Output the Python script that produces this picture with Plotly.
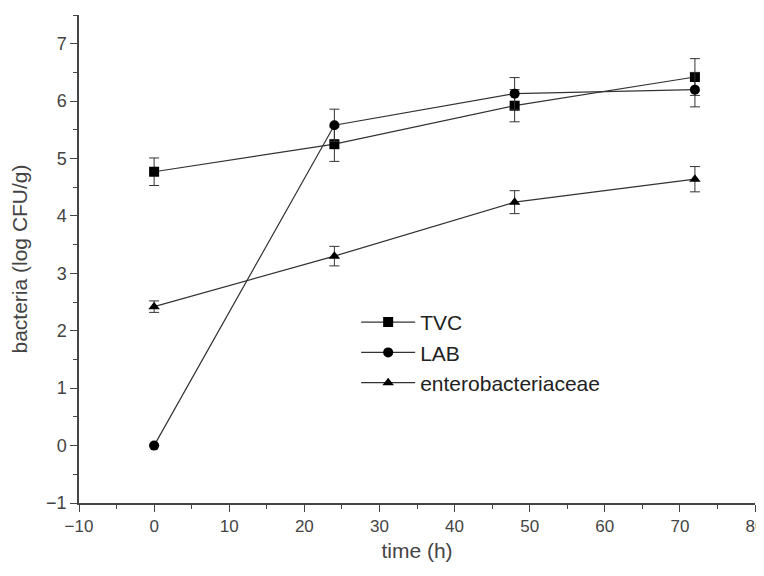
import plotly.graph_objects as go

time_h = [0, 24, 48, 72]
tvc = [4.77, 5.25, 5.92, 6.42]
tvc_err = [0.24, 0.3, 0.28, 0.32]
lab = [0.0, 5.58, 6.13, 6.20]
lab_err = [0.0, 0.28, 0.28, 0.3]
entero = [2.42, 3.30, 4.24, 4.64]
entero_err = [0.1, 0.17, 0.2, 0.22]

series = [
    ("TVC", tvc, tvc_err, "square"),
    ("LAB", lab, lab_err, "circle"),
    ("enterobacteriaceae", entero, entero_err, "triangle-up"),
]

fig = go.Figure()
for name, vals, errs, sym in series:
    fig.add_trace(go.Scatter(
        x=time_h, y=vals, name=name, mode="lines+markers",
        line=dict(color="#333333", width=1.2),
        marker=dict(symbol=sym, size=10, color="black"),
        error_y=dict(type="data", array=errs, visible=True, color="#333333",
                     thickness=1, width=5),
    ))

fig.update_layout(
    width=756, height=560,
    margin=dict(l=71, r=9, t=7, b=65),
    paper_bgcolor="white", plot_bgcolor="white",
    font=dict(family="Liberation Sans, Arial", size=18, color="#444444"),
    showlegend=True,
    legend=dict(x=0.41, y=0.412, xanchor="left", yanchor="top",
                font=dict(size=21, color="#222222"), bgcolor="rgba(0,0,0,0)",
                tracegroupgap=0, itemwidth=54),
    xaxis=dict(range=[-10, 80], tick0=-10, dtick=10, showgrid=False, zeroline=False,
               showline=True, linecolor="#444444", linewidth=1.5, automargin=False,
               ticks="outside", ticklen=7, tickcolor="#444444",
               ticklabeloverflow="allow", tickfont=dict(size=17),
               minor=dict(dtick=5, ticks="outside", ticklen=4, tickcolor="#444444"),
               title=dict(text="time (h)", font=dict(size=21), standoff=8)),
    yaxis=dict(range=[-1, 7.5], tick0=-1, dtick=1, showgrid=False, zeroline=False,
               showline=True, linecolor="#444444", linewidth=1.5, automargin=False,
               ticks="outside", ticklen=7, tickcolor="#444444",
               minor=dict(dtick=0.5, ticks="outside", ticklen=4, tickcolor="#444444"),
               title=dict(text="bacteria (log CFU/g)", font=dict(size=21), standoff=14)),
)

fig.write_html("out.html")
